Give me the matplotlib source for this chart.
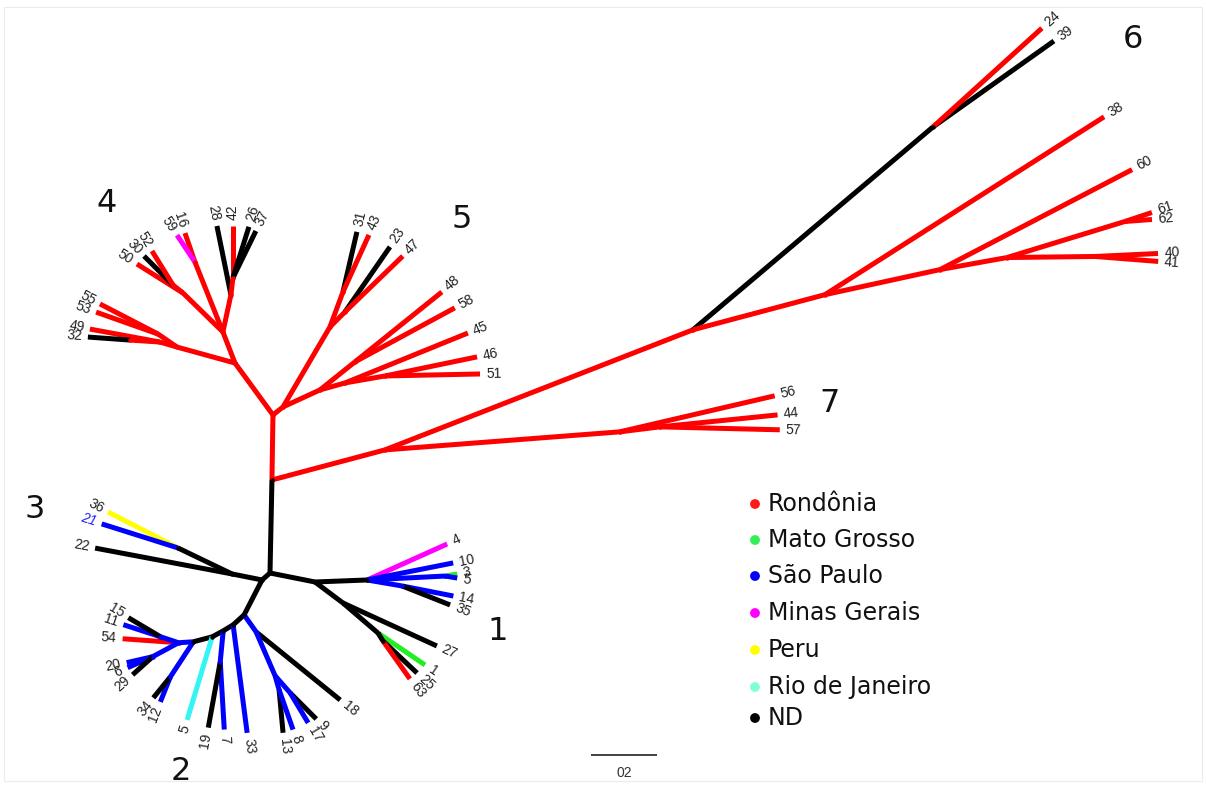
import numpy as np
import matplotlib
matplotlib.use("Agg")
import matplotlib.pyplot as plt
from matplotlib.patches import Rectangle

# ---------------------------------------------------------------------------
# Unrooted tree: each branch is (child, parent, length in subst./site,
# drawing angle in degrees, region of origin of the child lineage)
# ---------------------------------------------------------------------------
child = [
    "nR", "n45", "nA", "nB3", "22", "nC3", "36", "21",
    "nD1", "nD2", "nD3", "nD4", "nD5", "nD6", "nE1", "18", "nE2", "nE3", "13", "8",
    "nE4", "9", "17", "33", "nF3", "7", "19", "5", "nG", "12", "34",
    "54", "nH1", "11", "15", "nH2", "20", "6", "29",
    "nK1", "nK2", "nK3", "27", "nK4", "1", "nK5", "25", "63",
    "4", "10", "nK7", "3", "5_b", "nK6", "14", "35",
    "nP1", "nP7", "56", "nP7b", "44", "57", "nP6", "nQ1", "39", "24",
    "nP8", "38", "nP9", "60", "nP10", "nP11", "61", "62", "nP12", "40", "41",
    "nT1", "nT2", "nU1", "31", "43", "nU2", "23", "47",
    "nT3", "nV1", "48", "58", "nV2", "45", "nV3", "46", "51",
    "nS1", "nS2", "nW3", "55", "53", "nW1", "49", "nW2", "32",
    "nS3", "nS4", "50", "nS5", "30", "52", "nX1", "16", "59",
    "nY1", "28", "nY2", "42", "26", "37",
]
parent = [
    "root", "nR", "root", "nA", "nB3", "nB3", "nC3", "nC3",
    "nA", "nD1", "nD2", "nD3", "nD4", "nD5", "nD1", "nE1", "nE1", "nE2", "nE3", "nE3",
    "nE2", "nE4", "nE4", "nD2", "nD3", "nF3", "nF3", "nD4", "nD5", "nG", "nG",
    "nD6", "nD6", "nH1", "nH1", "nD6", "nH2", "nH2", "nH2",
    "root", "nK1", "nK1", "nK3", "nK3", "nK4", "nK4", "nK5", "nK5",
    "nK2", "nK2", "nK2", "nK7", "nK7", "nK2", "nK6", "nK6",
    "nR", "nP1", "nP7", "nP7", "nP7b", "nP7b", "nP1", "nP6", "nQ1", "nQ1",
    "nP6", "nP8", "nP8", "nP9", "nP9", "nP10", "nP11", "nP11", "nP10", "nP12", "nP12",
    "n45", "nT1", "nT2", "nU1", "nU1", "nT2", "nU2", "nU2",
    "nT1", "nT3", "nV1", "nV1", "nT3", "nV2", "nV2", "nV3", "nV3",
    "n45", "nS1", "nS2", "nW3", "nW3", "nS2", "nW1", "nW1", "nW2",
    "nS1", "nS3", "nS4", "nS4", "nS5", "nS5", "nS3", "nX1", "nX1",
    "nS3", "nY1", "nY1", "nY2", "nY2", "nY2",
]
length = [
    0.282, 0.197, 0.032, 0.093, 0.422, 0.182, 0.238, 0.242,
    0.119, 0.045, 0.035, 0.038, 0.059, 0.045, 0.063, 0.328, 0.145, 0.044, 0.131, 0.128,
    0.069, 0.112, 0.106, 0.330, 0.094, 0.206, 0.203, 0.263, 0.127, 0.082, 0.082,
    0.170, 0.058, 0.118, 0.113, 0.089, 0.081, 0.083, 0.082,
    0.139, 0.158, 0.106, 0.313, 0.140, 0.172, 0.028, 0.142, 0.141,
    0.266, 0.266, 0.237, 0.037, 0.037, 0.108, 0.158, 0.156,
    0.354, 0.714, 0.482, 0.122, 0.359, 0.364, 1.002, 0.952, 0.450, 0.446,
    0.414, 1.003, 0.357, 0.656, 0.206, 0.374, 0.086, 0.082, 0.267, 0.191, 0.192,
    0.039, 0.281, 0.113, 0.187, 0.190, 0.064, 0.240, 0.244,
    0.123, 0.136, 0.338, 0.344, 0.079, 0.402, 0.123, 0.285, 0.288,
    0.195, 0.182, 0.070, 0.198, 0.199, 0.054, 0.216, 0.091, 0.128,
    0.101, 0.169, 0.165, 0.039, 0.124, 0.121, 0.228, 0.093, 0.098,
    0.115, 0.213, 0.052, 0.158, 0.162, 0.158,
]
angle = [
    88.8, 89.1, 221.2, 168.7, 169.3, 154.3, 152.8, 162.5,
    242.8, 222.3, 211.0, 208.6, 194.7, 183.8, -54.8, -39.0, -66.6, -74.1, -84.7, -70.7,
    -48.6, -45.0, -59.0, -82.6, -95.5, -86.6, -100.3, -106.8, -123.3, -111.8, -129.0,
    175.9, 161.6, 162.0, 149.3, 208.3, 193.0, 203.7, 222.0,
    -11.3, 2.2, -36.9, -24.6, -40.6, -34.2, -58.0, -43.3, -54.6,
    24.2, 11.2, 2.9, 9.5, -9.5, -9.7, -11.1, -21.6,
    14.9, 4.4, 13.1, 7.1, 5.8, -1.4, 21.3, 40.2, 35.4, 42.2,
    14.9, 32.5, 12.3, 27.5, 10.2, 17.0, 18.4, 4.2, 0.7, 2.7, -4.5,
    38.7, 59.6, 69.6, 76.9, 65.5, 45.0, 55.3, 44.0,
    24.7, 38.7, 38.8, 28.4, 15.6, 22.1, 9.9, 11.7, 1.2,
    126.2, 164.6, 145.6, 152.6, 160.5, 163.6, 169.5, 176.2, 175.9,
    111.2, 135.7, 147.8, 141.3, 135.0, 121.7, 111.8, 109.0, 123.7,
    77.8, 101.5, 83.3, 90.0, 72.6, 63.9,
]
region = [
    "ND", "RO", "ND", "ND", "ND", "ND", "PE", "SP",
    "ND", "ND", "ND", "ND", "ND", "SP", "SP", "ND", "SP", "SP", "ND", "SP",
    "SP", "ND", "SP", "SP", "SP", "SP", "ND", "RJ", "SP", "SP", "ND",
    "RO", "SP", "SP", "ND", "SP", "SP", "SP", "ND",
    "ND", "ND", "ND", "ND", "ND", "MT", "ND", "ND", "RO",
    "MG", "SP", "SP", "MT", "SP", "SP", "SP", "ND",
    "RO", "RO", "RO", "RO", "RO", "RO", "RO", "ND", "ND", "RO",
    "RO", "RO", "RO", "RO", "RO", "RO", "RO", "RO", "RO", "RO", "RO",
    "RO", "RO", "RO", "ND", "RO", "RO", "ND", "RO",
    "RO", "RO", "RO", "RO", "RO", "RO", "RO", "RO", "RO",
    "RO", "RO", "RO", "RO", "RO", "RO", "RO", "RO", "ND",
    "RO", "RO", "RO", "RO", "ND", "RO", "RO", "RO", "MG",
    "RO", "ND", "RO", "RO", "ND", "ND",
]

region_codes = ["RO", "MT", "SP", "MG", "PE", "RJ", "ND"]
region_names = ["Rondônia", "Mato Grosso", "São Paulo", "Minas Gerais",
                "Peru", "Rio de Janeiro", "ND"]
branch_colors = ["#ff0000", "#22ee22", "#0000ff", "#ff00ff",
                 "#ffff00", "#33f5f5", "#000000"]
legend_colors = ["#ff1a1a", "#33ee55", "#0000ff", "#ff00ff",
                 "#ffff00", "#80ffd8", "#000000"]

cluster_ids = ["1", "2", "3", "4", "5", "6", "7"]
highlight_tips = {"21": "#2020ff"}
scale_value = 0.2
scale_text = "02"

color_of = dict(zip(region_codes, branch_colors))

# ---------------------------------------------------------------------------
# Lay out the tree from branch lengths and angles
# ---------------------------------------------------------------------------
pos = {"root": np.array([0.0, 0.0])}
for c, p, L, a in zip(child, parent, length, angle):
    t = np.deg2rad(a)
    pos[c] = pos[p] + L * np.array([np.cos(t), np.sin(t)])

W, H = 1206, 785
fig = plt.figure(figsize=(W / 100, H / 100), dpi=100)
fig.patch.set_facecolor("white")

px = 330.0  # pixels per tree unit
ox, oy = 270.0, 573.0
ax = fig.add_axes([0, 0, 1, 1])
ax.set_xlim(-ox / px, (W - ox) / px)
ax.set_ylim(-(H - oy) / px, oy / px)
ax.axis("off")

for c, p, reg in zip(child, parent, region):
    (x0, y0), (x1, y1) = pos[p], pos[c]
    ax.plot([x0, x1], [y0, y1], color=color_of[reg], lw=3.6,
            solid_capstyle="butt", solid_joinstyle="round", zorder=2)

# round the inner junctions so the joints look continuous
internal = set(parent)
for c, reg in zip(child, region):
    if c in internal:
        ax.plot(*pos[c], marker="o", ms=3.2, color=color_of[reg],
                mec="none", zorder=2)

# tip labels, rotated along their branch
gap = 0.018
for c, a in zip(child, angle):
    if c in internal:
        continue
    a_n = (a + 180.0) % 360.0 - 180.0
    t = np.deg2rad(a_n)
    x, y = pos[c] + gap * np.array([np.cos(t), np.sin(t)])
    if -90.0 <= a_n <= 90.0:
        rot, ha = a_n, "left"
    else:
        rot, ha = a_n - 180.0, "right"
    name = c.split("_")[0]
    ax.text(x, y, name, rotation=rot, rotation_mode="anchor", ha=ha,
            va="center", fontsize=10, family="Liberation Sans",
            color=highlight_tips.get(name, "#222222"),
            style="italic" if name in highlight_tips else "normal", zorder=3)

# scale bar
sb_x0 = (591 - ox) / px
sb_y = (oy - 755) / px
ax.plot([sb_x0, sb_x0 + scale_value], [sb_y, sb_y], color="#222222",
        lw=1.2, solid_capstyle="butt")
ax.text(sb_x0 + scale_value / 2, sb_y - 0.055, scale_text, ha="center",
        va="center", fontsize=10, color="#333333", family="Liberation Sans")

# ---------------------------------------------------------------------------
# Cluster numbers, legend and thin frame (figure pixel space)
# ---------------------------------------------------------------------------
ov = fig.add_axes([0, 0, 1, 1], facecolor="none")
ov.set_xlim(0, W)
ov.set_ylim(H, 0)
ov.axis("off")

ov.add_patch(Rectangle((4, 7), W - 8, H - 11, fill=False,
                       edgecolor="#ececec", lw=0.8))

cluster_xy = [(498, 632), (181, 771), (35, 510), (107, 203),
              (462, 219), (1133, 40), (830, 403)]
for cid, (cx, cy) in zip(cluster_ids, cluster_xy):
    ov.text(cx, cy, cid, fontsize=23, ha="center", va="center",
            family="DejaVu Sans", color="#111111")

leg_y = [504, 540, 576, 613, 650, 687, 718]
for name, col, yy in zip(region_names, legend_colors, leg_y):
    ov.scatter([755], [yy], s=50, color=col, edgecolors="none")
    ov.text(768, yy, name, fontsize=17, va="center", ha="left",
            family="DejaVu Sans", color="#111111")

fig.savefig("out.png", dpi=100, facecolor="white")
